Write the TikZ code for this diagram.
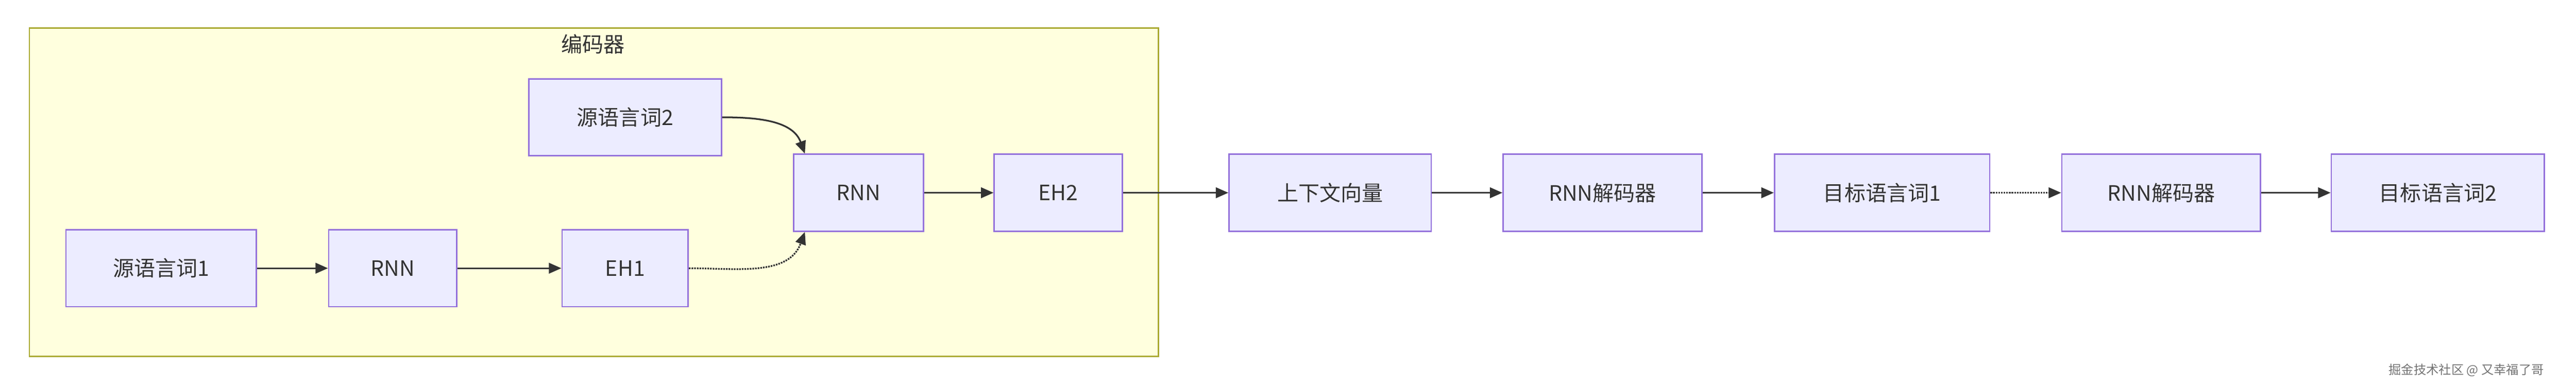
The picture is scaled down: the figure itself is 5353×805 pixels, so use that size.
\documentclass[tikz,border=0pt]{standalone}
\usepackage{fontspec}
\newfontfamily\cjk{Noto Sans CJK SC}
\usetikzlibrary{arrows.meta,positioning}
\definecolor{boxfill}{HTML}{ECECFF}
\definecolor{boxline}{HTML}{9370DB}
\definecolor{clfill}{HTML}{FFFFDE}
\definecolor{clline}{HTML}{AAAA33}
\begin{document}
\begin{tikzpicture}[x=1pt,y=-1pt,
  box/.style={draw=boxline,fill=boxfill,line width=3pt,minimum height=160pt,
    font=\cjk\fontsize{44}{50}\selectfont,text=black!80},
  flow/.style={line width=3.5pt,draw=black!80,-{Triangle[length=26pt,width=22pt]}},
  dots/.style={flow,dotted}]
\useasboundingbox (0,0) rectangle (5353,805);
% encoder cluster
\draw[fill=clfill,draw=clline,line width=3pt] (61,58) rectangle (2407,741);
\node[font=\cjk\fontsize{44}{50}\selectfont,text=black!80] (title) at (1232,92) {编码器};
% nodes
\node[box,minimum width=396pt] (src1) at (335,558) {源语言词1};
\node[box,minimum width=266pt] (rnn1) at (816,558) {RNN};
\node[box,minimum width=262pt] (eh1) at (1299,558) {EH1};
\node[box,minimum width=400pt] (src2) at (1299,244) {源语言词2};
\node[box,minimum width=270pt] (rnn2) at (1784,401) {RNN};
\node[box,minimum width=266pt] (eh2) at (2199,401) {EH2};
\node[box,minimum width=420pt] (ctx) at (2764,401) {上下文向量};
\node[box,minimum width=413pt] (dec1) at (3330,401) {RNN解码器};
\node[box,minimum width=447pt] (tgt1) at (3911,401) {目标语言词1};
\node[box,minimum width=413pt] (dec2) at (4491,401) {RNN解码器};
\node[box,minimum width=443pt] (tgt2) at (5066,401) {目标语言词2};
% connectors
\draw[flow] (src1) -- (rnn1);
\draw[flow] (rnn1) -- (eh1);
\draw[dots] (eh1.east) to[out=0,in=250] ([xshift=25pt]rnn2.south west);
\draw[flow] (src2.east) to[out=0,in=110] ([xshift=25pt]rnn2.north west);
\draw[flow] (rnn2) -- (eh2);
\draw[flow] (eh2) -- (ctx);
\draw[flow] (ctx) -- (dec1);
\draw[flow] (dec1) -- (tgt1);
\draw[dots] (tgt1) -- (dec2);
\draw[flow] (dec2) -- (tgt2);
\node[font=\cjk\fontsize{26}{30}\selectfont,text=black!55] (mark) at (5125,770) {掘金技术社区 @ 又幸福了哥};
\end{tikzpicture}
\end{document}
